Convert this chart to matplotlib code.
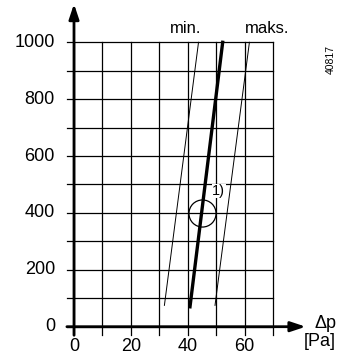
import numpy as np
import matplotlib.pyplot as plt

plt.rcParams['font.family'] = ['Liberation Sans', 'DejaVu Sans']

# Grid and tick values
x_grid = np.arange(0, 71, 10)
y_grid = np.arange(0, 1001, 100)
x_labels = [0, 20, 40, 60]
y_labels = [0, 200, 400, 600, 800, 1000]

# Characteristic lines (dp [Pa], flow)
min_dp = [31.8, 43.8]
min_q = [75, 1000]
nom_dp = [40.8, 52.3]
nom_q = [70, 1000]
max_dp = [49.6, 61.7]
max_q = [75, 1000]

# Marked point
pt_dp, pt_q = 45.2, 400

fig = plt.figure(figsize=(3.39, 3.54), dpi=100)
W, H = 339, 354
ax = fig.add_axes([74 / W, (H - 326.7) / H, 199 / W, 284.4 / H])
ax.set_xlim(0, 70)
ax.set_ylim(0, 1000)
ax.axis('off')

# grid lines, extending a bit past the axes as tick marks
for x in x_grid:
    ax.plot([x, x], [-30, 1000], color='black', lw=0.9, clip_on=False, zorder=1)
for y in y_grid:
    ax.plot([-2.5, 70], [y, y], color='black', lw=0.9, clip_on=False, zorder=1)

# axes with arrows
ax.annotate('', xy=(0, 1135), xytext=(0, -30),
            arrowprops=dict(arrowstyle='-|>,head_length=0.9,head_width=0.3',
                            color='black', lw=2, shrinkA=0, shrinkB=0),
            annotation_clip=False)
ax.annotate('', xy=(81.5, 0), xytext=(-2.5, 0),
            arrowprops=dict(arrowstyle='-|>,head_length=0.9,head_width=0.3',
                            color='black', lw=2, shrinkA=0, shrinkB=0),
            annotation_clip=False)

# tick labels
for x in x_labels:
    ax.text(x, -70, str(x), ha='center', va='center', fontsize=13)
for y in y_labels:
    ax.text(-6.7, y, str(y), ha='right', va='center', fontsize=13)

ax.text(88.3, 13, '\u0394p', ha='center', va='center', fontsize=13)
ax.text(86.5, -52, '[Pa]', ha='center', va='center', fontsize=13)

# characteristic lines
ax.plot(min_dp, min_q, color='black', lw=0.7, zorder=3, clip_on=False)
ax.plot(max_dp, max_q, color='black', lw=0.7, zorder=3, clip_on=False)
ax.plot(nom_dp, nom_q, color='black', lw=2.4, zorder=3, clip_on=False)

ax.plot([pt_dp], [pt_q], marker='o', markersize=19.5, markerfacecolor='none',
        markeredgecolor='black', markeredgewidth=0.9, zorder=4)
ax.text(50.9, 477, '1)', ha='center', va='center', fontsize=10.5, zorder=5,
        bbox=dict(facecolor='white', edgecolor='none', pad=0.3))

ax.text(39.4, 1050, 'min.', ha='center', va='center', fontsize=12)
ax.text(67.8, 1050, 'maks.', ha='center', va='center', fontsize=12)

fig.text(330.5 / W, 1 - 60 / H, '40817', rotation=90, ha='center', va='center',
         fontsize=7.5)

fig.savefig('out.png', dpi=100)
